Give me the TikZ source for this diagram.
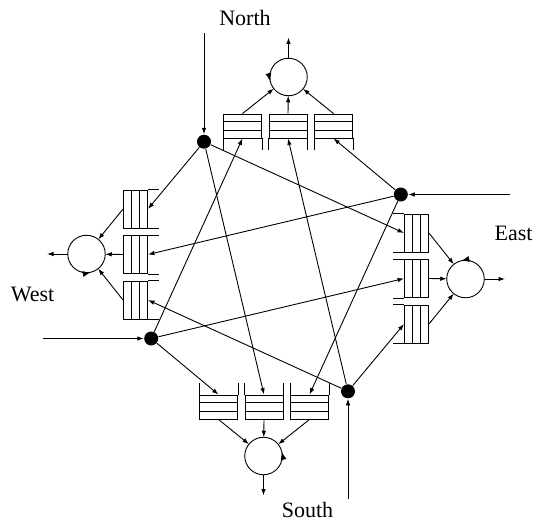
\documentclass[tikz,border=0pt]{standalone}
\usepackage{fontspec}
\setmainfont{Liberation Serif}
\usetikzlibrary{arrows.meta,calc}

\tikzset{
  junction/.style={circle, fill, inner sep=0pt, minimum size=14pt},
  server/.style={circle, draw, inner sep=0pt, outer sep=0pt, minimum size=37.5pt},
  queuebox/.style={draw, rectangle, inner sep=0pt, minimum width=38pt, minimum height=24pt},
  turn/.style={-{Latex[length=8pt,width=6pt]}},
  dirlabel/.style={anchor=base, font=\fontsize{22}{26}\selectfont}
}

\begin{document}
\begin{tikzpicture}[x=1pt, y=1pt, line width=0.9pt, >={Latex[length=6.5pt,width=4.5pt]}]
	\useasboundingbox (0,0) rectangle (534,523);

	% Labels
	\node[dirlabel] (lblN) at (245,497) {North};
	\node[dirlabel] (lblE) at (513.5,283) {East};
	\node[dirlabel] (lblS) at (307.5,6) {South};
	\node[dirlabel] (lblW) at (32.5,221.3) {West};

	% Input junctions
	\node[junction] (dotN) at (204,381.3) {};
	\node[junction] (dotE) at (400.8,328.5) {};
	\node[junction] (dotS) at (348,131.7) {};
	\node[junction] (dotW) at (151.2,184.5) {};

	\coordinate (inN) at (204,490);
	\coordinate (inE) at (509.5,328.5);
	\coordinate (inS) at (348,24);
	\coordinate (inW) at (42.5,184.5);

	\draw[->] (inN) -- (dotN);
	\draw[->] (inE) -- (dotE);
	\draw[->] (inS) -- (dotS);
	\draw[->] (inW) -- (dotW);

	% Output servers
	\node[server] (servN) at (288.5,446) {};
	\node[server] (servE) at (465.5,244) {};
	\node[server] (servS) at (263.5,67) {};
	\node[server] (servW) at (86.5,269) {};

	\coordinate (outN) at (288.5,485.5);
	\coordinate (outE) at (505,244);
	\coordinate (outS) at (263.5,27.5);
	\coordinate (outW) at (47,269);

	\draw[->] (servN) -- (outN);
	\draw[->] (servE) -- (outE);
	\draw[->] (servS) -- (outS);
	\draw[->] (servW) -- (outW);

	% Service direction
	\draw[turn] (servN.165) arc[start angle=165, end angle=193, radius=18.75pt];
	\draw[turn] (servE.75) arc[start angle=75, end angle=103, radius=18.75pt];
	\draw[turn] (servS.-15) arc[start angle=-15, end angle=13, radius=18.75pt];
	\draw[turn] (servW.255) arc[start angle=255, end angle=283, radius=18.75pt];

	% Queues
	\node[queuebox] (qN1) at (242.5,397) {};
	\node[queuebox] (qN2) at (288,397) {};
	\node[queuebox] (qN3) at (333.5,397) {};

	\node[queuebox, rotate=-90] (qE1) at (416.5,290) {};
	\node[queuebox, rotate=-90] (qE2) at (416.5,244.5) {};
	\node[queuebox, rotate=-90] (qE3) at (416.5,199) {};

	\node[queuebox, rotate=180] (qS1) at (218.5,116) {};
	\node[queuebox, rotate=180] (qS2) at (264,116) {};
	\node[queuebox, rotate=180] (qS3) at (309.5,116) {};

	\node[queuebox, rotate=90] (qW1) at (135.5,314) {};
	\node[queuebox, rotate=90] (qW2) at (135.5,268.5) {};
	\node[queuebox, rotate=90] (qW3) at (135.5,223) {};

	% Slots and open ends
	\foreach \q in {qN1,qN2,qN3,qE1,qE2,qE3,qS1,qS2,qS3,qW1,qW2,qW3} {
		\draw ($(\q.north west)!1/3!(\q.south west)$) -- ($(\q.north east)!1/3!(\q.south east)$);
		\draw ($(\q.north west)!2/3!(\q.south west)$) -- ($(\q.north east)!2/3!(\q.south east)$);
		\draw (\q.south west) -- ($(\q.north west)!1.46!(\q.south west)$);
		\draw (\q.south east) -- ($(\q.north east)!1.46!(\q.south east)$);
	}

	% Queues to servers
	\draw[->] (qN1.north) -- (servN);
	\draw[->] (qN2.north) -- (servN);
	\draw[->] (qN3.north) -- (servN);

	\draw[->] (qE1.north) -- (servE);
	\draw[->] (qE2.north) -- (servE);
	\draw[->] (qE3.north) -- (servE);

	\draw[->] (qS1.north) -- (servS);
	\draw[->] (qS2.north) -- (servS);
	\draw[->] (qS3.north) -- (servS);

	\draw[->] (qW1.north) -- (servW);
	\draw[->] (qW2.north) -- (servW);
	\draw[->] (qW3.north) -- (servW);

	% Junctions to queues
	\draw[->] (dotN) -- (qW1.south);
	\draw[->] (dotN) -- (qS2.south);
	\draw[->] (dotN) -- (qE1.south);

	\draw[->] (dotE) -- (qN3.south);
	\draw[->] (dotE) -- (qW2.south);
	\draw[->] (dotE) -- (qS3.south);

	\draw[->] (dotS) -- (qN2.south);
	\draw[->] (dotS) -- (qW3.south);
	\draw[->] (dotS) -- (qE3.south);

	\draw[->] (dotW) -- (qN1.south);
	\draw[->] (dotW) -- (qS1.south);
	\draw[->] (dotW) -- (qE2.south);
\end{tikzpicture}
\end{document}
